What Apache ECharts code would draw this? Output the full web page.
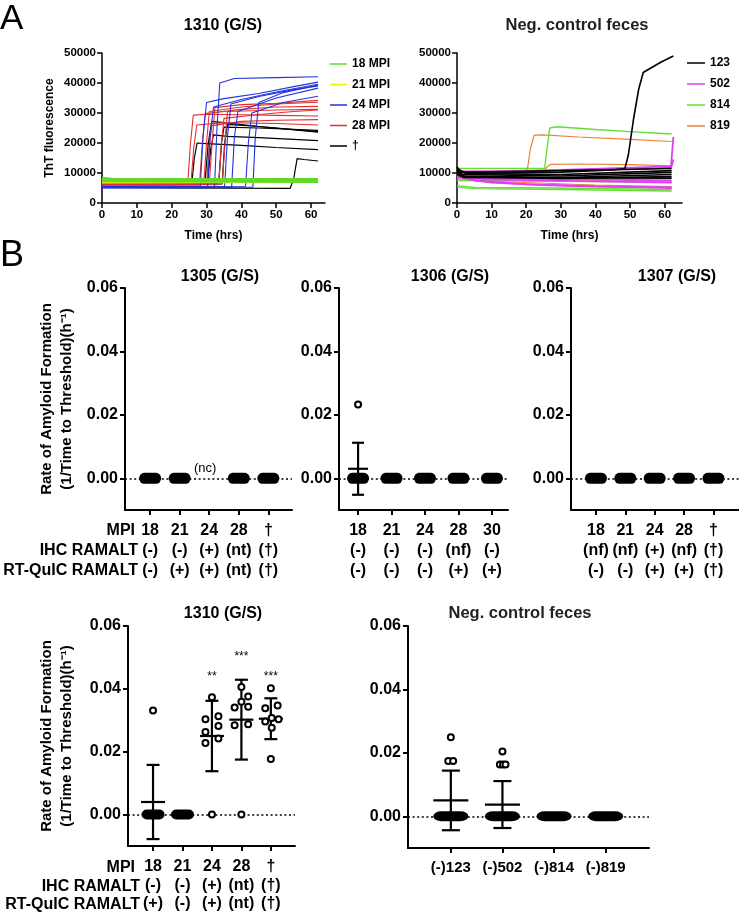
<!DOCTYPE html>
<html>
<head>
<meta charset="utf-8">
<script src="https://cdn.jsdelivr.net/npm/echarts@6/dist/echarts.min.js"></script>
<style>
  html, body { margin: 0; padding: 0; background: #fff; }
  #chart { width: 739px; height: 913px; }
</style>
</head>
<body>
<div id="chart"></div>
<script>
const FONT = "'Liberation Sans', Arial, sans-serif";

// ---- Panel A: ThT traces, key points [hrs, fluorescence] ----
const hourTicks = [0, 10, 20, 30, 40, 50, 60];

const mpi18Curves = [
  [[0, 8300], [3, 8000], [62, 7900]],
  [[0, 7900], [62, 7600]],
  [[0, 7600], [62, 7300]],
  [[0, 7300], [62, 7100]],
];
const mpi21Curves = [
  [[0, 7000], [30, 7000], [62, 7200]],
  [[0, 6800], [35, 6900], [62, 7000]],
];
const mpi24Curves = [
  [[0, 5300], [32.3, 5400], [33, 25000], [33.8, 40000], [38, 41500], [50, 41800], [62, 42100]],
  [[0, 5600], [28.2, 5700], [29, 22000], [30, 33500], [35, 34800], [45, 36500], [55, 38800], [62, 40300]],
  [[0, 5000], [30.3, 5100], [31, 22000], [32, 32000], [40, 34500], [50, 37000], [62, 39600]],
  [[0, 5400], [35.2, 5500], [36, 22000], [37, 33000], [45, 35500], [55, 37800], [62, 39000]],
  [[0, 5100], [37.2, 5200], [38, 22000], [39, 30500], [50, 35000], [62, 38300]],
  [[0, 5500], [41.2, 5600], [42, 20000], [43, 30000], [52, 33500], [62, 35600]],
  [[0, 5200], [43.3, 5300], [44, 22000], [45, 33500], [52, 36800], [62, 39300]],
];
const mpi28Curves = [
  [[0, 6300], [24.6, 6500], [25.4, 20000], [26.2, 29300], [30, 29600], [40, 29400], [50, 29200], [62, 29000]],
  [[0, 6000], [25.5, 6200], [26.3, 18000], [27.2, 26000], [35, 26800], [50, 26500], [62, 26000]],
  [[0, 6500], [28, 6600], [28.8, 20000], [29.6, 29800], [40, 31200], [50, 32000], [62, 32200]],
  [[0, 6200], [29.2, 6300], [30, 20000], [30.8, 30500], [40, 32000], [50, 33000], [62, 33600]],
  [[0, 6100], [30, 6200], [30.7, 18000], [31.5, 25800], [40, 27200], [50, 27600], [62, 27800]],
  [[0, 6400], [30.8, 6500], [31.6, 20000], [32.4, 31800], [40, 32800], [50, 33200], [62, 34200]],
  [[0, 6000], [33.5, 6100], [34.3, 20000], [35, 28200], [45, 29500], [55, 30500], [62, 31000]],
  [[0, 6300], [34.5, 6400], [35.3, 20000], [36, 30500], [50, 31000], [62, 31200]],
];
const daggerCurves = [
  [[0, 6900], [6, 7000], [6.3, 8300], [6.6, 7000], [25.8, 6800], [26.5, 15000], [27.3, 20000], [30, 19800], [40, 19200], [50, 18500], [62, 17800]],
  [[0, 6400], [30.3, 6500], [31.2, 18000], [32, 22700], [36, 22200], [45, 21800], [62, 20800]],
  [[0, 6200], [29.5, 6300], [30.5, 20000], [31.5, 27200], [35, 26800], [45, 25500], [62, 23600]],
  [[0, 6600], [33.5, 6700], [34.3, 20000], [35, 25300], [45, 25000], [62, 24200]],
  [[0, 6300], [34.5, 6400], [35.2, 20000], [36, 26200], [45, 25500], [62, 23800]],
  [[0, 5200], [20, 5000], [54, 4900], [55, 8000], [56, 14800], [58, 14500], [62, 14000]],
];

const neg123Curves = [
  [[0, 12000], [1, 10500], [3, 9800], [30, 9500], [62, 10800]],
  [[0, 11000], [1.5, 9500], [30, 9000], [62, 10200]],
  [[0, 10500], [2, 9000], [30, 8500], [62, 9500]],
  [[0, 10000], [2, 8800], [30, 8200], [62, 8800]],
  [[0, 9500], [2, 8500], [62, 8300]],
  [[0, 11500], [2, 10200], [62, 11500]],
  [[0, 11800], [1, 10300], [10, 10000], [30, 10300], [45, 11000], [48.5, 11500], [49.5, 16000], [51, 28000], [52.5, 38000], [53.8, 43500], [56, 45000], [59, 47000], [62.5, 49000]],
];
const neg502Curves = [
  [[0, 10500], [3, 8000], [10, 6800], [25, 6000], [40, 5500], [62, 5200]],
  [[0, 10000], [5, 7500], [20, 6200], [40, 5600], [62, 5000]],
  [[0, 11000], [2, 10500], [30, 10800], [50, 11200], [61.8, 11800], [62.5, 22000]],
  [[0, 10800], [3, 10200], [30, 11000], [62, 12200], [62.5, 14500]],
  [[0, 9000], [5, 8500], [30, 8000], [62, 7500]],
  [[0, 8500], [10, 7800], [40, 7200], [62, 6800]],
];
const neg814Curves = [
  [[0, 11500], [25.3, 11500], [26, 18000], [26.8, 25000], [29, 25400], [40, 24500], [50, 23800], [62, 23000]],
  [[0, 5300], [5, 4800], [30, 4500], [62, 4000]],
  [[0, 5800], [5, 5200], [30, 5000], [62, 4500]],
  [[0, 7500], [30, 7200], [62, 7000]],
];
const neg819Curves = [
  [[0, 9500], [20.3, 11000], [21.2, 18000], [22.3, 22600], [25, 22700], [35, 22000], [50, 21200], [62, 20500]],
  [[0, 9800], [25.3, 10500], [26, 12000], [27, 12900], [35, 13000], [50, 12800], [62, 12400]],
  [[0, 8000], [15, 7000], [40, 6000], [62, 5500]],
  [[0, 8800], [20, 8000], [62, 7000]],
];

// ---- Panel B: rate of amyloid formation ----
const rateTicks = [0, 0.02, 0.04, 0.06];

const cats1305 = ['18', '21', '24', '28', '†'];
const ihc1305 = ['(-)', '(-)', '(+)', '(nt)', '(†)'];
const rt1305 = ['(-)', '(+)', '(+)', '(nt)', '(†)'];
const zeros1305 = [0, 1, 3, 4];
const notes1305 = [[2, 0, '(nc)']];

const cats1306 = ['18', '21', '24', '28', '30'];
const ihc1306 = ['(-)', '(-)', '(-)', '(nf)', '(-)'];
const rt1306 = ['(-)', '(-)', '(-)', '(+)', '(+)'];
const zeros1306 = [0, 1, 2, 3, 4];
const points1306 = [[0, 0.0233]];
const err1306 = [[0, 0.003, 0.0082]];

const cats1307 = ['18', '21', '24', '28', '†'];
const ihc1307 = ['(nf)', '(nf)', '(+)', '(nf)', '(†)'];
const rt1307 = ['(-)', '(-)', '(+)', '(+)', '(†)'];
const zeros1307 = [0, 1, 2, 3, 4];

const cats1310 = ['18', '21', '24', '28', '†'];
const ihc1310 = ['(-)', '(-)', '(+)', '(nt)', '(†)'];
const rt1310 = ['(+)', '(-)', '(+)', '(nt)', '(†)'];
const zeros1310 = [0, 1];
const points1310 = [
  [0, 0.0331],
  [2, 0.0373], [2.22, 0.0313], [1.78, 0.0303], [2.22, 0.0282], [1.78, 0.0263], [2.22, 0.0242], [1.78, 0.0228], [2, 0],
  [3, 0.0406], [3.23, 0.0376], [3, 0.0359], [2.77, 0.0341], [3.23, 0.0343], [2.77, 0.0284], [3.23, 0.0287], [3, 0],
  [4, 0.0402], [4.23, 0.0347], [3.81, 0.0338], [4.03, 0.0307], [4.26, 0.0303], [3.81, 0.0296], [4.03, 0.0276], [4, 0.0177],
];
const err1310 = [[0, 0.004, 0.0118], [2, 0.025, 0.0112], [3, 0.0302, 0.0127], [4, 0.0305, 0.0065]];
const stars1310 = [[2, 0.0446, '**'], [3, 0.0509, '***'], [4, 0.0446, '***']];

const negCats = ['(-)123', '(-)502', '(-)814', '(-)819'];
const zerosNeg = [0, 1, 2, 3];
const pointsNeg = [[0, 0.0249], [-0.05, 0.0174], [0.045, 0.0174], [1, 0.0204], [0.95, 0.0163], [1.01, 0.0163], [1.06, 0.0163]];
const errNeg = [[0, 0.005, 0.0094], [1, 0.0037, 0.0074]];

const rowTitles = ['MPI', 'IHC RAMALT', 'RT-QuIC RAMALT'];

// ---- helpers ----
const black = '#000';
const PILL = 'path://M5,0L17,0A5,5,0,0,1,17,10L5,10A5,5,0,0,1,5,0Z';

function curveSeries(grid, name, curves, color, width) {
  return curves.map((pts) => ({
    type: 'line', name, xAxisIndex: grid, yAxisIndex: grid, data: pts,
    symbol: 'none', showSymbol: false, silent: true, z: 2,
    lineStyle: { color, width }, itemStyle: { color },
  }));
}

function hoursAxis(grid, max) {
  return {
    type: 'value', gridIndex: grid, min: 0, max,
    axisLine: { show: true, onZero: false, lineStyle: { color: black, width: 1.5 } },
    axisTick: { show: true, length: 5, customValues: hourTicks, lineStyle: { color: black, width: 1.5 } },
    axisLabel: { customValues: hourTicks, margin: 6, fontSize: 11.5, fontWeight: 'bold', color: black, fontFamily: FONT },
    splitLine: { show: false },
    name: 'Time (hrs)', nameLocation: 'middle', nameGap: 27,
    nameTextStyle: { fontSize: 12, fontWeight: 'bold', color: black, fontFamily: FONT },
  };
}

function thtAxis(grid, name) {
  return {
    type: 'value', gridIndex: grid, min: 0, max: 50000, interval: 10000,
    axisLine: { show: true, onZero: false, lineStyle: { color: black, width: 1.5 } },
    axisTick: { show: true, length: 5, lineStyle: { color: black, width: 1.5 } },
    axisLabel: {
      formatter: (v) => String(v),
      margin: 6, fontSize: 11.5, fontWeight: 'bold', color: black, fontFamily: FONT,
    },
    splitLine: { show: false },
    name, nameLocation: 'middle', nameGap: 46, nameRotate: 90,
    nameTextStyle: { fontSize: 12, fontWeight: 'bold', color: black, fontFamily: FONT },
  };
}

function rateXAxis(grid, min, max, labels, margin, lineHeight, fontSize) {
  const ticks = labels.map((_, i) => i);
  return {
    type: 'value', gridIndex: grid, min, max,
    axisLine: { show: true, onZero: false, lineStyle: { color: black, width: 2 } },
    axisTick: { show: true, length: 5, customValues: ticks, lineStyle: { color: black, width: 2 } },
    axisLabel: {
      customValues: ticks, formatter: (v) => labels[Math.round(v)],
      margin, lineHeight, fontSize, fontWeight: 'bold', color: black, fontFamily: FONT,
    },
    splitLine: { show: false },
  };
}

function rateYAxis(grid, name, nameGap) {
  return {
    type: 'value', gridIndex: grid, min: -0.01, max: 0.06,
    axisLine: { show: true, onZero: false, lineStyle: { color: black, width: 2 } },
    axisTick: { show: true, length: 5, customValues: rateTicks, lineStyle: { color: black, width: 2 } },
    axisLabel: {
      customValues: rateTicks, formatter: (v) => v.toFixed(2),
      margin: 7, fontSize: 16, fontWeight: 'bold', color: black, fontFamily: FONT,
    },
    splitLine: { show: false },
    name: name || '', nameLocation: 'middle', nameGap, nameRotate: 90,
    nameTextStyle: { fontSize: 15, fontWeight: 'bold', lineHeight: 20, color: black, fontFamily: FONT },
  };
}

function stackLabels(cats, ihc, rt) {
  return cats.map((c, i) => `${c}\n${ihc[i]}\n${rt[i]}`);
}

function blobSeries(grid, idx, size) {
  return {
    type: 'scatter', xAxisIndex: grid, yAxisIndex: grid, silent: true, z: 4,
    data: idx.map((i) => [i, 0]), symbol: PILL, symbolSize: size,
    itemStyle: { color: black, opacity: 1 },
    markLine: {
      silent: true, symbol: ['none', 'none'], z: 1, animation: false,
      label: { show: false },
      lineStyle: { color: black, type: [2, 2.6], width: 1.6, opacity: 1 },
      data: [{ yAxis: 0 }],
    },
  };
}

function pointSeries(grid, data) {
  return {
    type: 'scatter', xAxisIndex: grid, yAxisIndex: grid, data, silent: true, z: 6,
    symbol: 'circle', symbolSize: 6,
    itemStyle: { color: '#fff', borderColor: black, borderWidth: 2, opacity: 1 },
  };
}

function errorBars(grid, data, meanHalf, capHalf) {
  return {
    type: 'custom', xAxisIndex: grid, yAxisIndex: grid, data, silent: true, z: 3,
    encode: { x: 0, y: 1 },
    renderItem(params, api) {
      const x = api.value(0), m = api.value(1), sd = api.value(2);
      const hi = api.coord([x, m + sd]);
      const lo = api.coord([x, m - sd]);
      const mid = api.coord([x, m]);
      const style = { stroke: black, lineWidth: 2.2, fill: null };
      const seg = (x1, y1, x2, y2) => ({ type: 'line', shape: { x1, y1, x2, y2 }, style });
      return {
        type: 'group',
        children: [
          seg(hi[0], hi[1], lo[0], lo[1]),
          seg(hi[0] - capHalf, hi[1], hi[0] + capHalf, hi[1]),
          seg(lo[0] - capHalf, lo[1], lo[0] + capHalf, lo[1]),
          seg(mid[0] - meanHalf, mid[1], mid[0] + meanHalf, mid[1]),
        ],
      };
    },
  };
}

function textSeries(grid, data, fontSize, fontWeight, offset) {
  return {
    type: 'scatter', xAxisIndex: grid, yAxisIndex: grid, data, silent: true, z: 7,
    symbolSize: 1, itemStyle: { color: 'rgba(0,0,0,0)', opacity: 1 },
    label: {
      show: true, position: 'inside', offset, formatter: (p) => p.data[2],
      fontSize, fontWeight, color: black, opacity: 1, fontFamily: FONT,
    },
  };
}

function txt(text, x, y, size, weight, align, color) {
  return {
    type: 'text', x, y, silent: true,
    style: {
      text, fontSize: size, fontWeight: weight, fontFamily: FONT, fill: color || black,
      textAlign: align, textVerticalAlign: 'middle',
    },
  };
}

// ---- layout ----
const grids = [
  { left: 102, top: 53, width: 223, height: 150 },   // A 1310
  { left: 457, top: 53, width: 225, height: 150 },   // A neg control
  { left: 125, top: 288, width: 167, height: 222 },  // 1305
  { left: 339, top: 288, width: 169, height: 222 },  // 1306
  { left: 571, top: 288, width: 168, height: 222 },  // 1307
  { left: 128, top: 626, width: 167, height: 223 },  // 1310
  { left: 408, top: 626, width: 241, height: 222 },  // neg control
];

const rateName = 'Rate of Amyloid Formation\n(1/Time to Threshold)(h\u207B\u00B9)';

const xAxes = [
  hoursAxis(0, 64),
  hoursAxis(1, 65),
  rateXAxis(2, -0.85, 4.8, stackLabels(cats1305, ihc1305, rt1305), 11, 20, 16),
  rateXAxis(3, -0.57, 4.48, stackLabels(cats1306, ihc1306, rt1306), 11, 20, 16),
  rateXAxis(4, -0.85, 4.87, stackLabels(cats1307, ihc1307, rt1307), 11, 20, 16),
  rateXAxis(5, -0.85, 4.82, stackLabels(cats1310, ihc1310, rt1310), 11.5, 18.5, 16),
  rateXAxis(6, -0.83, 3.84, negCats, 12, 16, 15),
];
const yAxes = [
  thtAxis(0, 'ThT fluorescence'),
  thtAxis(1, ''),
  rateYAxis(2, rateName, 48),
  rateYAxis(3, '', 40),
  rateYAxis(4, '', 40),
  rateYAxis(5, rateName, 51),
  rateYAxis(6, '', 40),
];

const series = [
  ...curveSeries(0, '†', daggerCurves, '#000000', 1.2),
  ...curveSeries(0, '28 MPI', mpi28Curves, '#e33030', 1.1),
  ...curveSeries(0, '24 MPI', mpi24Curves, '#2233e0', 1.1),
  ...curveSeries(0, '21 MPI', mpi21Curves, '#eeee00', 2),
  ...curveSeries(0, '18 MPI', mpi18Curves, '#62d92b', 2.5),

  ...curveSeries(1, '819', neg819Curves, '#ef8036', 1.2),
  ...curveSeries(1, '814', neg814Curves, '#66dd33', 1.4),
  ...curveSeries(1, '502', neg502Curves, '#df3ff0', 1.8),
  ...curveSeries(1, '123', neg123Curves, '#000000', 1.6),

  blobSeries(2, zeros1305, [22, 11]),
  textSeries(2, notes1305, 13, 'normal', [-4, -10]),

  blobSeries(3, zeros1306, [22, 11]),
  errorBars(3, err1306, 10, 6),
  pointSeries(3, points1306),

  blobSeries(4, zeros1307, [22, 11]),

  blobSeries(5, zeros1310, [23, 10]),
  errorBars(5, err1310, 12, 6.5),
  pointSeries(5, points1310),
  textSeries(5, stars1310, 12, 'normal', [0, 2]),

  blobSeries(6, zerosNeg, [35, 10]),
  errorBars(6, errNeg, 17.5, 9),
  pointSeries(6, pointsNeg),
];

const legendText = { fontSize: 12, fontWeight: 'bold', color: black, fontFamily: FONT };

const option = {
  animation: false,
  backgroundColor: '#fff',
  textStyle: { fontFamily: FONT },
  grid: grids,
  xAxis: xAxes,
  yAxis: yAxes,
  legend: [
    {
      data: ['18 MPI', '21 MPI', '24 MPI', '28 MPI', '†'], orient: 'vertical',
      left: 330, top: 58, padding: 0, icon: 'rect', itemWidth: 17, itemHeight: 1.5, itemGap: 8.5,
      selectedMode: false, textStyle: legendText,
    },
    {
      data: ['123', '502', '814', '819'], orient: 'vertical',
      left: 687, top: 57, padding: 0, icon: 'rect', itemWidth: 18, itemHeight: 1.5, itemGap: 9,
      selectedMode: false, textStyle: legendText,
    },
  ],
  graphic: [
    txt('A', 0, 19.5, 35, 'normal', 'left'),
    txt('1310 (G/S)', 223, 25.5, 16, 'bold', 'center'),
    txt('Neg. control feces', 577, 25.5, 16.5, 'bold', 'center', '#222'),
    txt('B', 0, 256, 36, 'normal', 'left'),
    txt('1305 (G/S)', 220, 277, 16, 'bold', 'center'),
    txt('1306 (G/S)', 450, 277, 16, 'bold', 'center'),
    txt('1307 (G/S)', 677, 277, 16, 'bold', 'center'),
    txt('1310 (G/S)', 223, 614, 16, 'bold', 'center'),
    txt('Neg. control feces', 520, 613.5, 16.5, 'bold', 'center', '#222'),
    txt(rowTitles[0], 135, 531, 16, 'bold', 'right'),
    txt(rowTitles[1], 138, 551, 16, 'bold', 'right'),
    txt(rowTitles[2], 138, 571, 16, 'bold', 'right'),
    txt(rowTitles[0], 135, 868, 16, 'bold', 'right'),
    txt(rowTitles[1], 140, 886.5, 16, 'bold', 'right'),
    txt(rowTitles[2], 140, 905, 16, 'bold', 'right'),
  ],
  series,
};

const chart = echarts.init(document.getElementById('chart'));
chart.setOption(option);
</script>
</body>
</html>
